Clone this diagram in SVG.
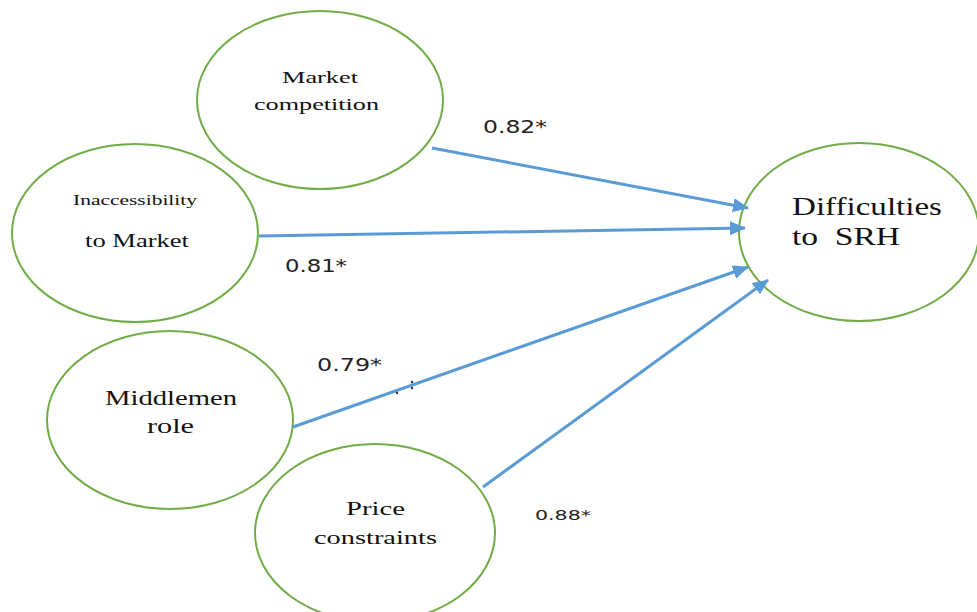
<svg xmlns="http://www.w3.org/2000/svg" width="977" height="612" viewBox="0 0 977 612">
<style>
.node{fill:#ffffff;stroke:#70ad47;stroke-width:2}
.nt{font-family:"Liberation Serif","Times New Roman",serif;fill:#111111}
.lbl{font-family:"DejaVu Sans","Liberation Sans",sans-serif;fill:#222222}
.edge{stroke:#5b9bd5;fill:none;stroke-width:3}
</style>
<defs>
<marker id="ah" markerUnits="userSpaceOnUse" markerWidth="16" markerHeight="14" refX="15" refY="7" orient="auto">
<path d="M0,0 L16,7 L0,14 Z" fill="#5b9bd5"/>
</marker>
</defs>
<rect width="977" height="612" fill="#ffffff"/>
<g id="n-difficulties">
<ellipse class="node" cx="859" cy="232" rx="120" ry="89"/>
<text class="nt" x="792" y="215" font-size="26" textLength="150" lengthAdjust="spacingAndGlyphs">Difficulties</text>
<text class="nt" x="792" y="245" font-size="26" textLength="108" lengthAdjust="spacingAndGlyphs" xml:space="preserve" style="white-space:pre">to  SRH</text>
</g>
<g id="n-market-competition">
<ellipse class="node" cx="320" cy="100" rx="123" ry="89"/>
<text class="nt" x="282" y="83" font-size="17" textLength="76" lengthAdjust="spacingAndGlyphs">Market</text>
<text class="nt" x="254" y="110" font-size="17" textLength="125" lengthAdjust="spacingAndGlyphs">competition</text>
</g>
<g id="n-inaccessibility">
<ellipse class="node" cx="135" cy="233" rx="123" ry="89"/>
<text class="nt" x="73" y="205" font-size="14" textLength="124" lengthAdjust="spacingAndGlyphs">Inaccessibility</text>
<text class="nt" x="85" y="247" font-size="19" textLength="104" lengthAdjust="spacingAndGlyphs">to Market</text>
</g>
<g id="n-middlemen">
<ellipse class="node" cx="170" cy="420" rx="123" ry="89"/>
<text class="nt" x="105" y="405" font-size="21" textLength="132" lengthAdjust="spacingAndGlyphs">Middlemen</text>
<text class="nt" x="147" y="433" font-size="21" textLength="47" lengthAdjust="spacingAndGlyphs">role</text>
</g>
<g id="n-price">
<ellipse class="node" cx="375" cy="533" rx="120" ry="89"/>
<text class="nt" x="346" y="515" font-size="19" textLength="59" lengthAdjust="spacingAndGlyphs">Price</text>
<text class="nt" x="314" y="544" font-size="19" textLength="123" lengthAdjust="spacingAndGlyphs">constraints</text>
</g>
<g id="connectors">
<line class="edge" x1="432" y1="148" x2="748" y2="208" marker-end="url(#ah)"/>
<line class="edge" x1="259" y1="236" x2="745" y2="228" marker-end="url(#ah)"/>
<line class="edge" x1="293" y1="427" x2="748" y2="267" stroke-width="4" marker-end="url(#ah)"/>
<line class="edge" x1="483" y1="487" x2="768" y2="280" marker-end="url(#ah)"/>
<circle cx="397" cy="393" r="1.2" fill="#333333"/>
<circle cx="412" cy="382" r="1.2" fill="#333333"/>
<circle cx="412" cy="388" r="1.2" fill="#333333"/>
<text class="lbl" x="483" y="133" font-size="17" textLength="64" lengthAdjust="spacingAndGlyphs">0.82*</text>
<text class="lbl" x="285" y="272" font-size="17" textLength="62" lengthAdjust="spacingAndGlyphs">0.81*</text>
<text class="lbl" x="317" y="371" font-size="17" textLength="65" lengthAdjust="spacingAndGlyphs">0.79*</text>
<text class="lbl" x="535" y="520" font-size="14" textLength="56" lengthAdjust="spacingAndGlyphs">0.88*</text>
</g>
</svg>
